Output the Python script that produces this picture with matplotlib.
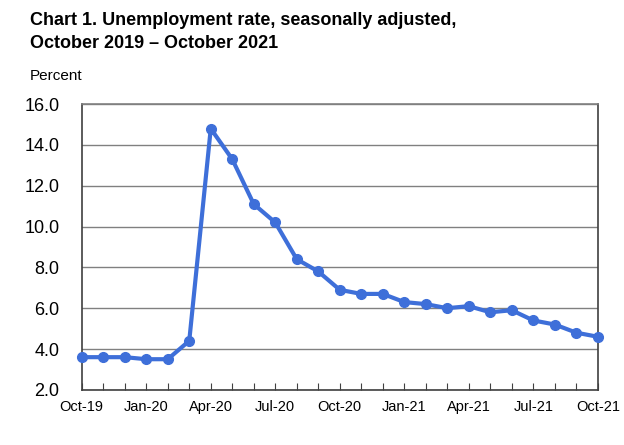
import numpy as np
import matplotlib.pyplot as plt

months = ["Oct-19", "Nov-19", "Dec-19", "Jan-20", "Feb-20", "Mar-20", "Apr-20",
          "May-20", "Jun-20", "Jul-20", "Aug-20", "Sep-20", "Oct-20", "Nov-20",
          "Dec-20", "Jan-21", "Feb-21", "Mar-21", "Apr-21", "May-21", "Jun-21",
          "Jul-21", "Aug-21", "Sep-21", "Oct-21"]
rate = [3.6, 3.6, 3.6, 3.5, 3.5, 4.4, 14.8, 13.3, 11.1, 10.2, 8.4, 7.8, 6.9,
        6.7, 6.7, 6.3, 6.2, 6.0, 6.1, 5.8, 5.9, 5.4, 5.2, 4.8, 4.6]
yticks = [2.0, 4.0, 6.0, 8.0, 10.0, 12.0, 14.0, 16.0]

plt.rcParams['font.family'] = ['Liberation Sans', 'DejaVu Sans']

fig = plt.figure(figsize=(6.24, 4.45), dpi=100)
ax = fig.add_axes([0.131, 0.124, 0.827, 0.642])

x = np.arange(len(months))
ax.plot(x, rate, color="#3E6FD9", lw=3, marker="o", ms=7, zorder=3, clip_on=False)

ax.set_xlim(0, len(months) - 1)
ax.set_ylim(2, 16)
ax.set_yticks(yticks)
ax.set_yticklabels(["%.1f" % v for v in yticks], fontsize=13)
ax.yaxis.grid(True, color="#808080", lw=1)
ax.set_axisbelow(True)
ax.tick_params(axis="y", length=0, pad=16)

ax.set_xticks(x)
ax.set_xticklabels([m if i % 3 == 0 else "" for i, m in enumerate(months)], fontsize=10.5)
ax.tick_params(axis="x", direction="in", length=5, color="#404040", pad=7)

for s in ax.spines.values():
    s.set_color("#404040")
    s.set_linewidth(1.2)
ax.spines["top"].set_color("#808080")

fig.text(0.048, 0.972, "Chart 1. Unemployment rate, seasonally adjusted,\nOctober 2019 \u2013 October 2021",
         fontsize=13, fontweight="bold", va="top", ha="left", linespacing=1.4)
fig.text(0.048, 0.83, "Percent", fontsize=11, va="center", ha="left")

fig.savefig("out.png", dpi=100)
